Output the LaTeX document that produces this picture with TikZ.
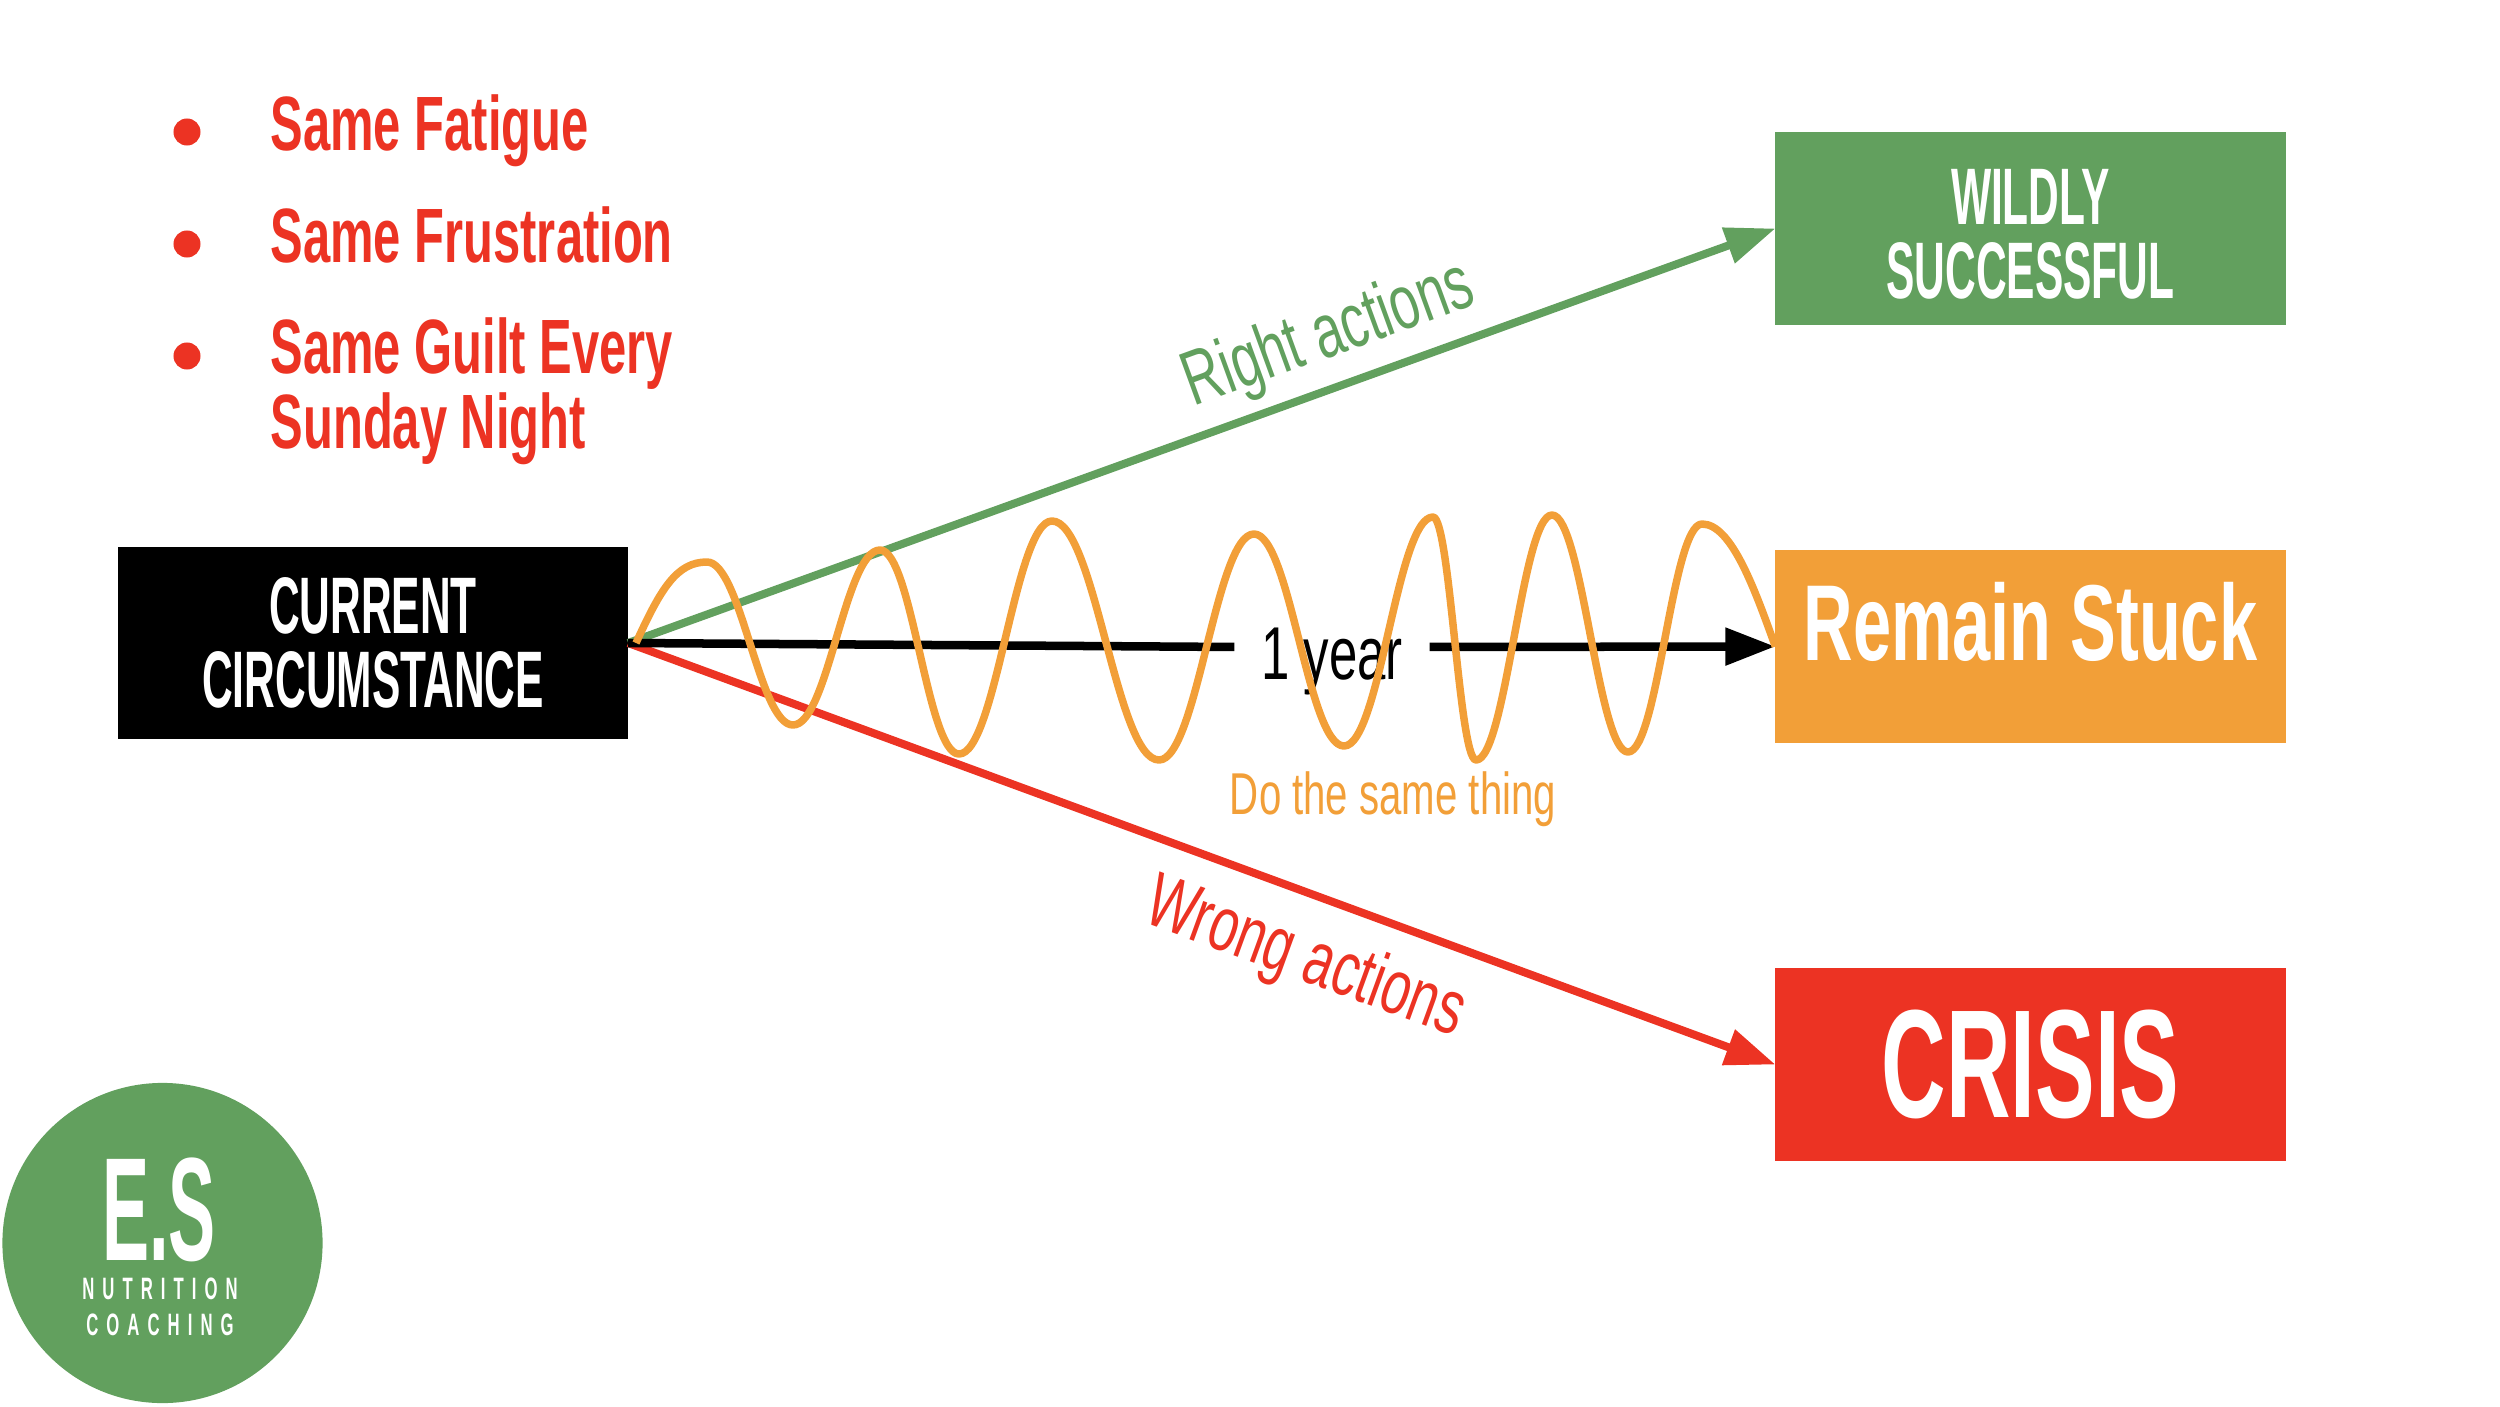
\documentclass[tikz,border=0pt]{standalone}
\usepackage{fontspec}
\usepackage{xcolor}
\newfontfamily\thinfont[FakeStretch=0.68]{Liberation Sans}
\newfontfamily\headfont[FakeStretch=0.635]{Liberation Sans}
\newfontfamily\capsfont[FakeStretch=0.53]{Liberation Sans}
\newfontfamily\crisisfont[FakeStretch=0.58]{Liberation Sans}
\newfontfamily\logofont[FakeStretch=0.48]{Liberation Sans}
\newfontfamily\spacedfont[FakeStretch=0.54,LetterSpace=26]{Liberation Sans}
\definecolor{goodgreen}{HTML}{62A05E}
\definecolor{stuckorange}{HTML}{F29F38}
\definecolor{crisisred}{HTML}{EC3323}
\usetikzlibrary{arrows.meta}

\begin{document}
\begin{tikzpicture}[
  x=0.01cm, y=-0.01cm,
  box/.style = {minimum width=5.1cm, minimum height=1.92cm, inner sep=0pt,
                outer sep=0pt, align=center, text=white},
  capstext/.style = {font=\capsfont\bfseries\fontsize{22.8pt}{21.1pt}\selectfont},
  listitem/.style = {anchor=base west, inner sep=0pt, align=left, text=crisisred,
                     font=\headfont\bfseries\fontsize{21.9pt}{21.3pt}\selectfont},
  dot/.style = {circle, fill=crisisred, minimum size=0.27cm, inner sep=0pt},
  slanted/.style = {anchor=base, inner sep=0pt, font=\thinfont\fontsize{21.9pt}{24pt}\selectfont},
  arr/.style = {-{Triangle[length=0.5cm, width=0.36cm]}, line width=0.08cm},
  logotext/.style = {anchor=base, inner sep=0pt, text=white},
]
\useasboundingbox (0,0) rectangle (2500,1406);

% list top left
\node[dot] at (187,132) (bulfatigue) {};
\node[dot] at (187,244) (bulfrust) {};
\node[dot] at (187,356) (bulguilt) {};
\node[listitem] at (270,150) (fatigue) {Same Fatigue};
\node[listitem] at (270,262) (frust) {Same Frustration};
\node[listitem] at (270,448) (guilt) {Same Guilt Every\\Sunday Night};

% boxes
\node[box, capstext, fill=black] at (373,643) (current) {CURRENT\\CIRCUMSTANCE};
\node[box, capstext, fill=goodgreen] at (2030.5,228.5) (wild) {\rule{0pt}{19.2pt}WILDLY\\SUCCESSFUL};
\node[box, fill=stuckorange, text depth=0.51cm,
      font=\headfont\bfseries\fontsize{30.7pt}{32pt}\selectfont] at (2030.5,646.5) (stuck) {Remain Stuck};
\node[box, fill=crisisred,
      font=\crisisfont\bfseries\fontsize{43.8pt}{44pt}\selectfont] at (2030.5,1064.5) (crisis) {CRISIS};

% labels
\node[anchor=base, inner sep=0pt, outer sep=0pt, minimum width=1.95cm, text height=0.64cm, text depth=0pt,
      font=\thinfont\fontsize{21.3pt}{24pt}\selectfont] at (1332,679) (year) {1 year};
\node[slanted, text=goodgreen, rotate=20] at (1336,355) (right) {Right actions};
\node[slanted, text=crisisred, rotate=-20] at (1298,979) (wrong) {Wrong actions};
\node[anchor=base, inner sep=0pt, text=stuckorange,
      font=\thinfont\fontsize{16.8pt}{18pt}\selectfont] at (1393,814) (same) {Do the same thing};

% arrows
\draw[arr, goodgreen] (current.east) -- (wild.west);
\draw[arr, crisisred] (current.east) -- (crisis.west);
\draw[line width=0.085cm] (current.east) -- (year.west);
\draw[arr, line width=0.085cm] (year.east) -- (stuck.west);

% the wave
\coordinate (wavestart) at (636,643);
\draw[stuckorange, line width=0.075cm, line join=round] (wavestart)
  .. controls +(25,-55) and +(-30,0) .. (707,562)
  .. controls +(34,0) and +(-34,0) .. (793,725)
  .. controls +(35,0) and +(-35,0) .. (880,550)
  .. controls +(32,0) and +(-32,0) .. (959,754)
  .. controls +(37,0) and +(-37,0) .. (1052,521)
  .. controls +(43,0) and +(-43,0) .. (1159,760)
  .. controls +(38,0) and +(-38,0) .. (1254,534)
  .. controls +(36,0) and +(-36,0) .. (1344,746)
  .. controls +(36,0) and +(-36,0) .. (1433,517)
  .. controls +(17,0) and +(-17,0) .. (1476,760)
  .. controls +(30,0) and +(-30,0) .. (1552,515)
  .. controls +(30,0) and +(-30,0) .. (1628,752)
  .. controls +(30,0) and +(-30,0) .. (1702,524)
  .. controls +(30,0) and +(-20,-55) .. (stuck.west);

% logo
\node[circle, fill=goodgreen, minimum size=3.2cm, inner sep=0pt] at (162.5,1243) (logo) {};
\node[logotext, font=\logofont\bfseries\fontsize{41.8pt}{42pt}\selectfont] at (159,1260) (initials) {E.S};
\node[logotext, font=\spacedfont\bfseries\fontsize{8.8pt}{10pt}\selectfont] at (160,1299) (nutrition) {NUTRITION};
\node[logotext, font=\spacedfont\bfseries\fontsize{8.8pt}{10pt}\selectfont] at (160,1335) (coaching) {COACHING};
\end{tikzpicture}
\end{document}
